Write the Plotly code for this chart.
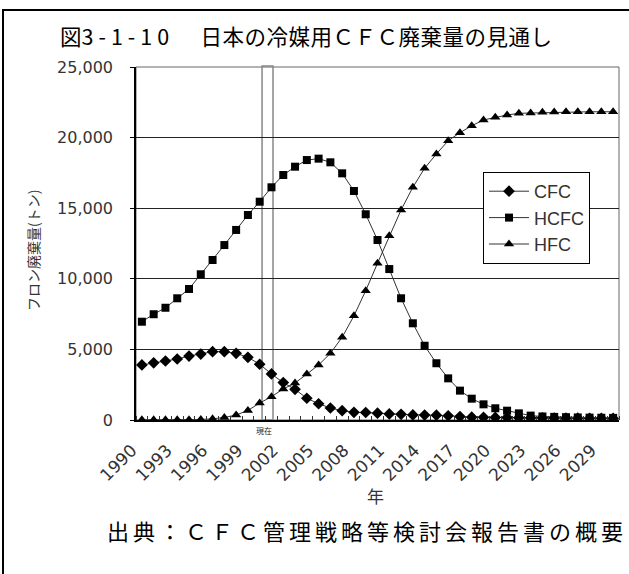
import plotly.graph_objects as go

# ---------------- data ----------------
years = list(range(1990, 2031))
cfc = [3900, 4050, 4180, 4320, 4530, 4670, 4840, 4840, 4720, 4440,
       3950, 3260, 2650, 2170, 1540, 1150, 850, 660, 545, 530,
       480, 430, 400, 360, 350, 340, 300, 240, 200, 190,
       180, 170, 160, 150, 150, 140, 130, 130, 120, 120, 110]
hcfc = [6960, 7490, 7950, 8620, 9280, 10320, 11330, 12390, 13460, 14520,
        15460, 16480, 17350, 17940, 18410, 18510, 18250, 17470, 16220, 14570,
        12750, 10690, 8620, 6850, 5260, 4020, 2950, 2080, 1510, 1110,
        830, 660, 470, 310, 250, 220, 200, 180, 170, 160, 150]
hfc = [20, 20, 20, 20, 20, 40, 80, 180, 350, 680,
       1200, 1650, 2200, 2620, 3250, 3900, 4720, 5860, 7380, 9160,
       11100, 13050, 14870, 16480, 17830, 18840, 19780, 20350, 20840, 21250,
       21440, 21600, 21720, 21740, 21800, 21820, 21830, 21830, 21830, 21830, 21830]
series_names = ["CFC", "HCFC", "HFC"]
tick_years = list(range(1990, 2030, 3))
tick_labels = [str(y) for y in tick_years]
y_ticks = [0, 5000, 10000, 15000, 20000, 25000]
y_tick_labels = ["0", "5,000", "10,000", "15,000", "20,000", "25,000"]
now_year_span = [2000.2, 2001.13]

title_text = ('図<span style="letter-spacing:5px">3-1-10</span>　 '
              '<span style="letter-spacing:0.5px">日本の冷媒用ＣＦＣ廃棄量の見通し</span>')
source_text = '<span style="letter-spacing:4px">出典：ＣＦＣ管理戦略等検討会報告書の概要</span>'
y_title = "フロン廃棄量(トン)"
x_title = "年"
now_label = "現在"

# ---------------- layout geometry (page pixels) ----------------
W, H = 629, 574
PL, PT, PR, PB = 136, 67, 619, 420   # plot area in page pixels
PW, PH = PR - PL, PB - PT
MR = W - PL - PW
MB = H - PT - PH


def px2x(px):
    return (px - PL) / PW


def py2y(py):
    return (PB - py) / PH


JP = "Noto Sans CJK JP"
NUM = "DejaVu Sans"

fig = go.Figure()
symbols = ["diamond", "square", "triangle-up"]
sizes = [9, 8, 9]
for name, vals, sym, sz in zip(series_names, [cfc, hcfc, hfc], symbols, sizes):
    fig.add_trace(go.Scatter(
        x=years, y=vals, name=name, mode="lines+markers",
        line=dict(color="#333333", width=1),
        marker=dict(symbol=sym, size=sz, color="black"),
        legendgroup=name,
    ))

fig.update_layout(
    width=W, height=H,
    margin=dict(l=PL, r=MR, t=PT, b=MB, autoexpand=False),
    paper_bgcolor="white", plot_bgcolor="white",
    showlegend=True,
    legend=dict(
        x=px2x(483), y=py2y(172), xanchor="left", yanchor="top",
        bgcolor="white", bordercolor="black", borderwidth=1,
        font=dict(family="Liberation Sans", size=18, color="#333333"),
        tracegroupgap=0, itemwidth=40,
    ),
    xaxis=dict(
        range=[1989.5, 2030.5], tickmode="array", tickvals=tick_years,
        ticktext=tick_labels, tickangle=-45, ticks="",
        tickfont=dict(family=NUM, size=17, color="#333333"),
        showgrid=False, zeroline=False,
        showline=True, linecolor="black", linewidth=1.5,
        minor=dict(ticks="inside", tickmode="linear", tick0=1989.5, dtick=1,
                   ticklen=4, tickcolor="#333333", showgrid=False),
        ticklabelstandoff=12, ticklabelshift=-10,
    ),
    yaxis=dict(
        range=[0, 25000], tickmode="array", tickvals=y_ticks,
        ticktext=y_tick_labels, ticks="outside", ticklen=4,
        tickcolor="black",
        tickfont=dict(family=NUM, size=16, color="#333333"),
        showgrid=True, gridcolor="#222222", gridwidth=1,
        zeroline=False, showline=True, linecolor="black", linewidth=1.5,
        ticklabelstandoff=14,
    ),
)

# plot area border
fig.add_shape(type="rect", xref="paper", yref="paper", x0=0, x1=1, y0=0, y1=1,
              line=dict(color="#666666", width=1), layer="below")
# "now" marker
fig.add_shape(type="rect", xref="x", yref="paper",
              x0=now_year_span[0], x1=now_year_span[1], y0=0, y1=1.003,
              line=dict(color="#888888", width=1.5), layer="between")
# outer frame
fig.add_shape(type="rect", xref="paper", yref="paper",
              x0=px2x(3), x1=px2x(660), y0=py2y(600), y1=py2y(10),
              line=dict(color="black", width=2))

common = dict(xref="paper", yref="paper", showarrow=False,
              xanchor="center", yanchor="middle")
fig.add_annotation(text=title_text, x=px2x(306), y=py2y(36),
                   font=dict(family=JP, size=21.5, color="black"), **common)
fig.add_annotation(text=source_text, x=px2x(367), y=py2y(530),
                   font=dict(family=JP, size=22, color="black"), **common)
fig.add_annotation(text=y_title, x=px2x(33), y=py2y(251), textangle=-90,
                   font=dict(family=JP, size=14, color="#333333"), **common)
fig.add_annotation(text=x_title, x=px2x(375), y=py2y(495),
                   font=dict(family=JP, size=17, color="#333333"), **common)
fig.add_annotation(text=now_label, xref="x", yref="paper",
                   x=sum(now_year_span) / 2 - 0.3, y=py2y(430), showarrow=False,
                   xanchor="center", yanchor="middle",
                   font=dict(family=JP, size=8, color="#222222"))

# remove the default 8px page margin so the figure sits at the window origin
fig.write_html("out.html", config={"displayModeBar": False},
               post_script="document.body.style.margin='0';")
